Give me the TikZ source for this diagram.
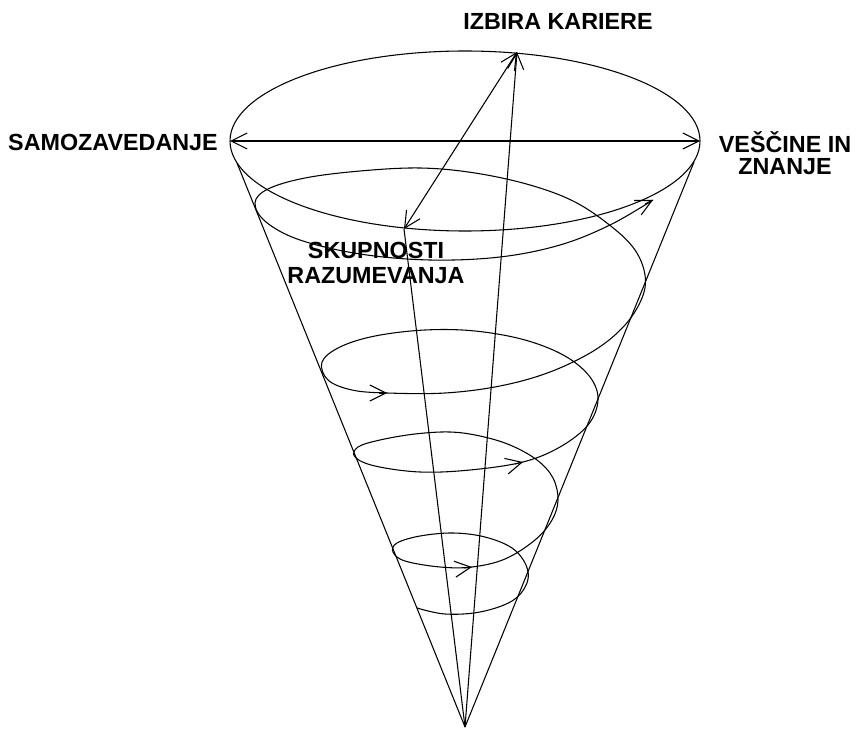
\documentclass[tikz,border=0pt]{standalone}
\usepackage{fontspec}
\setmainfont{Liberation Sans}
\usetikzlibrary{arrows.meta}

\begin{document}
\begin{tikzpicture}[
  x=0.75pt, y=-0.75pt,
  line width=0.8pt,
  lbl/.style={font=\fontsize{17.5}{16}\selectfont\bfseries, align=center, inner sep=0pt},
  tip/.style={-{Straight Barb[length=12pt, width=12pt]}},
  both/.style={{Straight Barb[length=12pt, width=12pt]}-{Straight Barb[length=12pt, width=12pt]}}
]
\useasboundingbox (0,0) rectangle (857,731);
% Cone: rim, apex and the rim points the lines run to
\coordinate (ctr) at (465,141);
\coordinate (apex) at (465,727);
\coordinate (wst) at (230,141);
\coordinate (est) at (700,141);
\coordinate (top) at (517,52);
\coordinate (front) at (404,229);
\coordinate (lft) at (237,163);
\coordinate (rgt) at (694,162);
\draw (ctr) ellipse [x radius=235, y radius=90];
\draw (apex) -- (lft);
\draw (apex) -- (rgt);
\draw (apex) -- (front);
\draw[tip] (apex) -- (top);
\draw[both] (front) -- (top);
\draw[both] (wst) -- (est);

% Spiral, from the bottom upwards
\draw plot[smooth, tension=0.6] coordinates {
  (417,608) (445,614) (480,612) (512,601) (527,583) (526,565) (512,548)
  (485,537) (453,533) (420,536) (397,543) (393,552) (405,561) (440,567)
  (472,567) (505,559) (535,540) (552,520) (558,500) (553,478) (537,460)
  (510,445) (480,436) (450,432) (415,434) (380,440) (358,447) (355,457)
  (375,466) (420,472) (470,470) (523,462) (560,447) (588,425) (598,400)
  (590,377) (565,356) (525,340) (475,331) (425,330) (375,336) (340,347)
  (322,362) (328,380) (352,390) (387,393) (445,393) (500,386) (550,372)
  (595,350) (625,325) (642,298) (645,275) (635,250) (612,227) (575,202)
  (530,185) (475,173) (420,168) (360,171) (305,178) (268,189) (255,203)
  (266,222) (300,240) (360,254) (430,260) (500,257) (560,245) (610,225)
  (653,200)};
\foreach \tx/\ty/\dx/\dy in {472/567/-8/1, 523/462/-8/2, 387/393/-8/0, 653/200/-8/4}
  \draw[tip] ({\tx+\dx},{\ty+\dy}) -- (\tx,\ty);

% Labels
\node[lbl] (izbira) at (558,21) {IZBIRA KARIERE};
\node[lbl] (samo) at (113,142) {SAMOZAVEDANJE};
\node[lbl] (vescine) at (785,153) {VEŠČINE IN\\ZNANJE};
\node[lbl, font=\fontsize{17.5}{19}\selectfont\bfseries] (skupnosti) at (376,263) {SKUPNOSTI\\RAZUMEVANJA};
\end{tikzpicture}
\end{document}
